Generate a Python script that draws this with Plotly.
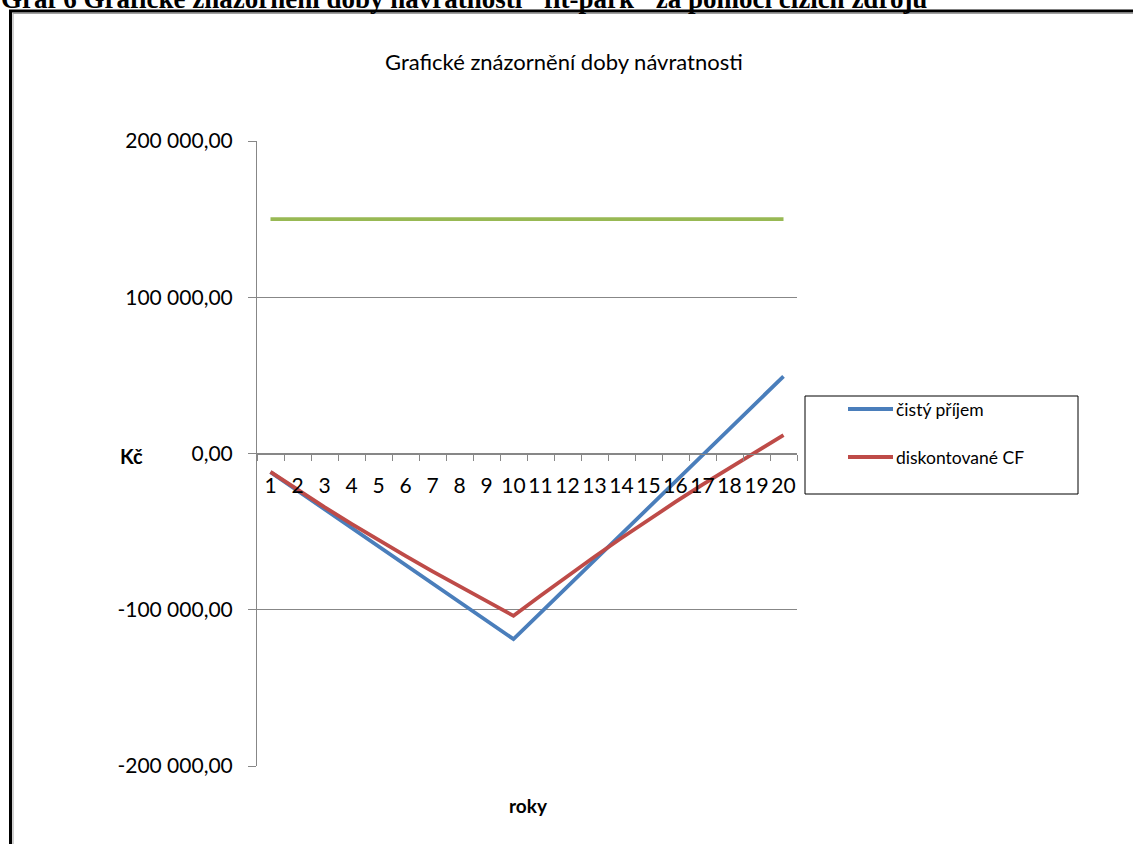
import plotly.graph_objects as go

# --- data -------------------------------------------------------------
roky = [str(i) for i in range(1, 21)]

cisty_prijem = [-11900, -23800, -35600, -47500, -59400, -71300, -83200, -95000,
                -106900, -118800, -102000, -85200, -68300, -51500, -34700,
                -17900, -1000, 15800, 32600, 49400]

diskontovane_cf = [-11800, -23200, -34300, -45000, -55400, -65500, -75400, -85000,
                   -94500, -103900, -91000, -78400, -66100, -54100, -42400,
                   -31000, -19900, -9100, 1500, 11800]

investice = [150000] * 20

y_ticks = [-200000, -100000, 0, 100000, 200000]
y_tick_text = ["-200 000,00", "-100 000,00", "0,00", "100 000,00", "200 000,00"]

# --- page geometry (pixels) -------------------------------------------
W, H = 1133, 844
L, R, T, B = 257, 336, 141, 78
PW, PH = W - L - R, H - T - B


def px(x):
    return (x - L) / PW


def py(y):
    return (H - B - y) / PH


FONT = "Lato"
BLUE = "#4A7EBB"
RED = "#BE4B48"
GREEN = "#98B954"
GRID = "#878787"

fig = go.Figure()
fig.add_trace(go.Scatter(x=roky, y=cisty_prijem, mode="lines", name="čistý příjem",
                         line=dict(color=BLUE, width=3.8)))
fig.add_trace(go.Scatter(x=roky, y=diskontovane_cf, mode="lines", name="diskontované CF",
                         line=dict(color=RED, width=3.8)))
fig.add_trace(go.Scatter(x=roky, y=investice, mode="lines", name="investice",
                         line=dict(color=GREEN, width=3.8)))

shapes = []
annotations = []

# outer frame of the document box
shapes.append(dict(type="line", xref="paper", yref="paper",
                   x0=px(9), x1=px(1140), y0=py(11), y1=py(11),
                   line=dict(color="black", width=3)))
shapes.append(dict(type="line", xref="paper", yref="paper",
                   x0=px(13), x1=px(1140), y0=py(13.5), y1=py(13.5),
                   line=dict(color="#A0A0A0", width=1)))
shapes.append(dict(type="line", xref="paper", yref="paper",
                   x0=px(10.5), x1=px(10.5), y0=py(10), y1=py(850),
                   line=dict(color="black", width=3)))
shapes.append(dict(type="line", xref="paper", yref="paper",
                   x0=px(13), x1=px(13), y0=py(13), y1=py(850),
                   line=dict(color="#A0A0A0", width=1)))

# caption above the frame (cut by the page edge)
annotations.append(dict(xref="paper", yref="paper", x=px(-1), y=py(16),
                        xanchor="left", yanchor="bottom", showarrow=False,
                        text="<b>Graf 6 Grafické znázornění doby návratnosti \"fit-park\" za pomocí cizích zdrojů</b>",
                        font=dict(family="Liberation Serif", size=27, color="black")))

# legend box
shapes.append(dict(type="rect", xref="paper", yref="paper",
                   x0=px(805), x1=px(1078), y0=py(396), y1=py(494),
                   line=dict(color="black", width=1), fillcolor="white"))
for yy, col, label in [(409, BLUE, "čistý příjem"), (457, RED, "diskontované CF")]:
    shapes.append(dict(type="line", xref="paper", yref="paper",
                       x0=px(848), x1=px(893), y0=py(yy), y1=py(yy),
                       line=dict(color=col, width=3.8)))
    annotations.append(dict(xref="paper", yref="paper", x=px(894), y=py(yy),
                            xanchor="left", yanchor="middle", showarrow=False,
                            text=label, font=dict(family=FONT, size=17.5, color="black")))

# axis titles
annotations.append(dict(xref="paper", yref="paper", x=px(131), y=py(456),
                        xanchor="center", yanchor="middle", showarrow=False,
                        text="<b>Kč</b>", font=dict(family=FONT, size=20, color="black")))
annotations.append(dict(xref="paper", yref="paper", x=px(528), y=py(805),
                        xanchor="center", yanchor="middle", showarrow=False,
                        text="<b>roky</b>", font=dict(family=FONT, size=19, color="black")))

# chart title
annotations.append(dict(xref="paper", yref="paper", x=px(564), y=py(62),
                        xanchor="center", yanchor="middle", showarrow=False,
                        text="Grafické znázornění doby návratnosti",
                        font=dict(family=FONT, size=22, color="black")))

fig.update_layout(
    width=W, height=H,
    margin=dict(l=L, r=R, t=T, b=B, pad=0),
    paper_bgcolor="white", plot_bgcolor="white",
    showlegend=False,
    font=dict(family=FONT, color="black"),
    shapes=shapes, annotations=annotations,
    xaxis=dict(type="category", range=[-0.5, 19.5], anchor="free", position=0.5,
               tickson="boundaries", ticks="outside", ticklen=6, tickcolor=GRID,
               showgrid=False, showline=True, linecolor=GRID, linewidth=1,
               zeroline=False, ticklabelstandoff=13,
               tickfont=dict(family=FONT, size=21, color="black"),
               tickangle=0),
    yaxis=dict(range=[-200000, 200000], tickvals=y_ticks, ticktext=y_tick_text,
               ticks="outside", ticklen=8, tickcolor=GRID,
               showgrid=True, gridcolor=GRID, gridwidth=1,
               showline=True, linecolor=GRID, linewidth=1, zeroline=False,
               ticklabelstandoff=11,
               tickfont=dict(family=FONT, size=21, color="black")),
)

fig.write_html("out.html")
